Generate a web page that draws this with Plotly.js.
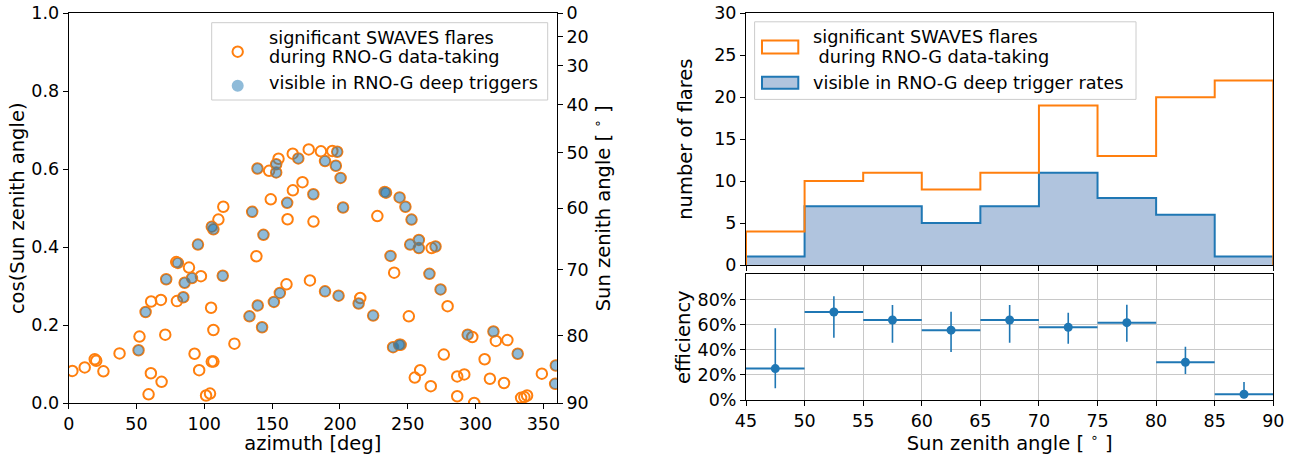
<!DOCTYPE html>
<html>
<head>
<meta charset="utf-8">
<script src="https://cdn.plot.ly/plotly-3.0.1.min.js"></script>
<style>
html,body{margin:0;padding:0;background:#fff;}
#plot{width:1301px;height:455px;}
</style>
</head>
<body>
<div id="plot"></div>
<script>
// ---------------- data ----------------
const flareAzimuth = [
  2.7, 11.8, 19.2, 20.3, 25.6, 37.5, 51.5, 52.2, 58.9, 60.6,
  68.5, 56.7, 60.8, 68.0, 71.2, 71.9, 79.8, 84.5, 79.3, 80.5,
  88.7, 85.5, 90.9, 97.5, 95.3, 92.8, 96.2, 113.6, 105.5, 106.7,
  110.4, 114.0, 105.0, 106.7, 105.5, 106.7, 101.3, 104.2, 122.2, 135.3,
  143.6, 138.4, 133.3, 139.4, 142.6, 151.3, 155.7, 160.6, 177.9, 189.0,
  139.2, 147.8, 153.0, 153.0, 154.7, 165.2, 169.3, 177.0, 186.0, 189.0,
  194.4, 198.0, 197.0, 200.5, 202.3, 149.0, 161.1, 165.3, 172.4, 180.4,
  161.4, 180.5, 199.0, 215.0, 213.8, 224.5, 227.6, 233.0, 234.0, 244.0,
  248.3, 252.8, 237.3, 240.0, 251.8, 258.2, 258.2, 267.6, 270.5, 266.0,
  274.2, 279.4, 250.8, 239.2, 243.7, 244.8, 276.6, 255.2, 259.2, 267.0,
  286.5, 291.7, 286.5, 299.0, 294.2, 297.6, 313.2, 315.0, 323.5, 331.1,
  306.7, 310.6, 321.0, 333.6, 336.0, 338.0, 348.9, 359.2, 358.7
];
const flareCosZenith = [
  0.083, 0.092, 0.113, 0.109, 0.082, 0.128, 0.136, 0.171, 0.023, 0.077,
  0.055, 0.234, 0.261, 0.265, 0.176, 0.318, 0.262, 0.272, 0.362, 0.360,
  0.348, 0.309, 0.321, 0.326, 0.407, 0.127, 0.085, 0.327, 0.453, 0.446,
  0.471, 0.504, 0.245, 0.188, 0.107, 0.107, 0.020, 0.025, 0.153, 0.491,
  0.432, 0.377, 0.223, 0.251, 0.195, 0.260, 0.283, 0.305, 0.315, 0.287,
  0.602, 0.596, 0.613, 0.592, 0.627, 0.640, 0.628, 0.651, 0.646, 0.621,
  0.647, 0.645, 0.609, 0.578, 0.502, 0.523, 0.514, 0.546, 0.567, 0.536,
  0.472, 0.466, 0.276, 0.270, 0.256, 0.225, 0.480, 0.542, 0.540, 0.528,
  0.504, 0.471, 0.378, 0.335, 0.407, 0.419, 0.398, 0.398, 0.402, 0.332,
  0.292, 0.249, 0.223, 0.144, 0.150, 0.150, 0.125, 0.066, 0.085, 0.044,
  0.069, 0.074, 0.018, 0.001, 0.176, 0.170, 0.184, 0.160, 0.162, 0.127,
  0.113, 0.063, 0.052, 0.014, 0.016, 0.020, 0.076, 0.097, 0.050
];
// 1 = flare also visible in RNO-G deep triggers
const flareVisible = [
  0,0,0,0,0,0,1,0,0,0,
  0,1,0,0,0,1,0,1,0,1,
  0,1,1,0,1,0,0,1,1,1,
  0,0,0,0,0,0,0,0,0,1,
  1,0,1,1,1,1,1,0,0,1,
  1,0,1,1,0,0,1,0,0,1,
  0,1,1,1,1,0,1,0,0,1,
  0,0,1,0,1,1,0,1,1,1,
  1,1,1,0,1,1,1,0,1,1,
  1,0,0,1,1,1,0,0,0,0,
  0,0,0,0,1,0,1,0,0,1,
  0,0,0,0,0,0,0,1,1
];
const zenithBinEdges = [45, 50, 55, 60, 65, 70, 75, 80, 85, 90];
const flaresPerBin   = [4, 10, 11, 9, 11, 19, 13, 20, 22];
const visiblePerBin  = [1, 7, 7, 5, 7, 11, 8, 6, 1];
const efficiencyUpper = [0.570, 0.826, 0.755, 0.702, 0.755, 0.694, 0.758, 0.424, 0.143];
const efficiencyLower = [0.093, 0.495, 0.456, 0.381, 0.456, 0.448, 0.464, 0.207, 0.013];
const zenithTickLabels = [0, 20, 30, 40, 50, 60, 70, 80, 90];
const azimuthTicks = [0, 50, 100, 150, 200, 250, 300, 350];
const cosTicks = [0, 0.2, 0.4, 0.6, 0.8, 1.0];
const effTicks = [0, 0.2, 0.4, 0.6, 0.8];

const labelAll = 'significant SWAVES flares during RNO-G data-taking';
const labelVisScatter = 'visible in RNO-G deep triggers';
const labelVisHist = 'visible in RNO-G deep trigger rates';

// ---------------- styling ----------------
const ORANGE = '#ff7f0e', BLUE = '#1f77b4', STEEL = '#b0c4de';
const FONT = 'DejaVu Sans';
const TICKF = {family: FONT, size: 17.5, color: '#000'};
const TITLEF = {family: FONT, size: 19.5, color: '#000'};
const LEGF = {family: FONT, size: 17.7, color: '#000'};
const W = 1301, H = 455;
const px = v => v / W;
const py = v => 1 - v / H;

// ---------------- derived traces ----------------
const visAz = flareAzimuth.filter((_, i) => flareVisible[i]);
const visCos = flareCosZenith.filter((_, i) => flareVisible[i]);

function stepXY(counts) {
  const x = [zenithBinEdges[0]], y = [0];
  counts.forEach((c, i) => { x.push(zenithBinEdges[i]); y.push(c); });
  const last = zenithBinEdges[zenithBinEdges.length - 1];
  x.push(last); y.push(counts[counts.length - 1]);
  x.push(last); y.push(0);
  return {x, y};
}
const stepAll = stepXY(flaresPerBin);
const stepVis = stepXY(visiblePerBin);
const binCenters = flaresPerBin.map((_, i) => (zenithBinEdges[i] + zenithBinEdges[i + 1]) / 2);
const efficiency = visiblePerBin.map((v, i) => v / flaresPerBin[i]);

const traces = [
  {x: flareAzimuth, y: flareCosZenith, xaxis: 'x', yaxis: 'y', type: 'scatter', mode: 'markers',
   name: labelAll, hoverinfo: 'skip', showlegend: false,
   marker: {symbol: 'circle', size: 10.5, color: 'rgba(0,0,0,0)', line: {color: ORANGE, width: 2}}},
  {x: visAz, y: visCos, xaxis: 'x', yaxis: 'y', type: 'scatter', mode: 'markers',
   name: labelVisScatter, hoverinfo: 'skip', showlegend: false,
   marker: {symbol: 'circle', size: 10.5, color: 'rgba(31,119,180,0.5)', line: {width: 0}}},
  {x: [0], y: [0], xaxis: 'x', yaxis: 'y2', type: 'scatter', mode: 'markers',
   marker: {opacity: 0}, hoverinfo: 'skip', showlegend: false},
  {x: stepVis.x, y: stepVis.y, xaxis: 'x2', yaxis: 'y3', type: 'scatter', mode: 'lines',
   line: {shape: 'hv', color: BLUE, width: 2}, fill: 'tozeroy', fillcolor: STEEL,
   name: labelVisHist, hoverinfo: 'skip', showlegend: false},
  {x: stepAll.x, y: stepAll.y, xaxis: 'x2', yaxis: 'y3', type: 'scatter', mode: 'lines',
   line: {shape: 'hv', color: ORANGE, width: 2},
   name: labelAll, hoverinfo: 'skip', showlegend: false},
  {x: binCenters, y: efficiency, xaxis: 'x3', yaxis: 'y4', type: 'scatter', mode: 'markers',
   marker: {color: BLUE, size: 9},
   error_x: {type: 'constant', value: 2.5, width: 0, thickness: 2, color: BLUE},
   error_y: {type: 'data', symmetric: false,
             array: efficiencyUpper.map((u, i) => u - efficiency[i]),
             arrayminus: efficiencyLower.map((l, i) => efficiency[i] - l),
             width: 0, thickness: 1.6, color: BLUE},
   hoverinfo: 'skip', showlegend: false}
];

const axisBase = {showline: true, linecolor: '#000', linewidth: 1, ticks: 'outside', ticklen: 5,
  tickwidth: 1, tickcolor: '#000', tickfont: TICKF, zeroline: false, showgrid: false, automargin: false};

const layout = {
  width: W, height: H,
  margin: {l: 0, r: 0, t: 0, b: 0, pad: 0},
  paper_bgcolor: '#fff', plot_bgcolor: 'rgba(0,0,0,0)',
  font: {family: FONT, color: '#000'},
  showlegend: false,
  xaxis: Object.assign({}, axisBase, {domain: [px(68.7), px(556.9)], range: [0, 360], anchor: 'y',
    tickvals: azimuthTicks, mirror: true,
    title: {text: 'azimuth [deg]', font: TITLEF, standoff: 0}}),
  yaxis: Object.assign({}, axisBase, {domain: [py(403.3), py(13.3)], range: [0, 1], anchor: 'x',
    tickvals: cosTicks, tickformat: '.1f',
    title: {text: 'cos(Sun zenith angle)', font: TITLEF, standoff: 1}}),
  yaxis2: Object.assign({}, axisBase, {overlaying: 'y', side: 'right', anchor: 'x', range: [0, 1],
    tickvals: zenithTickLabels.map(d => Math.cos(d * Math.PI / 180)),
    ticktext: zenithTickLabels.map(String),
    title: {text: 'Sun zenith angle [ <sup>∘</sup> ]', font: TITLEF, standoff: 6}}),
  xaxis2: Object.assign({}, axisBase, {domain: [px(746), px(1273.3)], range: [45, 90], anchor: 'y3',
    tickvals: zenithBinEdges, showticklabels: false, mirror: true}),
  yaxis3: Object.assign({}, axisBase, {domain: [py(265), py(13.3)], range: [0, 30], anchor: 'x2',
    dtick: 5, tick0: 0, mirror: true,
    title: {text: 'number of flares', font: TITLEF, standoff: 16}}),
  xaxis3: Object.assign({}, axisBase, {domain: [px(746), px(1273.3)], range: [45, 90], anchor: 'y4',
    tickvals: zenithBinEdges, mirror: true, showgrid: true, gridcolor: '#c8c8c8', gridwidth: 1,
    title: {text: 'Sun zenith angle [ <sup>∘</sup> ]', font: TITLEF, standoff: 0}}),
  yaxis4: Object.assign({}, axisBase, {domain: [py(400), py(274.3)], range: [0, 1], anchor: 'x3',
    tickvals: effTicks, tickformat: '.0%', mirror: true, showgrid: true, gridcolor: '#c8c8c8', gridwidth: 1,
    title: {text: 'efficiency', font: TITLEF, standoff: 1}}),
  shapes: [
    // scatter legend
    {type: 'rect', xref: 'paper', yref: 'paper', x0: px(211.7), x1: px(547.7), y0: py(100), y1: py(22.7),
     line: {color: '#cccccc', width: 1}, fillcolor: 'rgba(255,255,255,0.8)', layer: 'above'},
    {type: 'circle', xref: 'paper', yref: 'paper', x0: px(232.5), x1: px(242.9), y0: py(56.9), y1: py(46.5),
     line: {color: ORANGE, width: 2}, fillcolor: 'rgba(0,0,0,0)', layer: 'above'},
    {type: 'circle', xref: 'paper', yref: 'paper', x0: px(231.7), x1: px(243.7), y0: py(91.7), y1: py(79.7),
     line: {width: 0}, fillcolor: 'rgba(31,119,180,0.5)', layer: 'above'},
    // histogram legend
    {type: 'rect', xref: 'paper', yref: 'paper', x0: px(754.6), x1: px(1136), y0: py(99.4), y1: py(21.8),
     line: {color: '#cccccc', width: 1}, fillcolor: 'rgba(255,255,255,0.8)', layer: 'above'},
    {type: 'rect', xref: 'paper', yref: 'paper', x0: px(762), x1: px(798.3), y0: py(53.6), y1: py(40.6),
     line: {color: ORANGE, width: 2}, fillcolor: '#ffffff', layer: 'above'},
    {type: 'rect', xref: 'paper', yref: 'paper', x0: px(762), x1: px(798.3), y0: py(88.7), y1: py(76.7),
     line: {color: BLUE, width: 2}, fillcolor: STEEL, layer: 'above'}
  ],
  annotations: [
    {xref: 'paper', yref: 'paper', x: px(267), y: py(37.7), xanchor: 'left', yanchor: 'middle', showarrow: false,
     text: 'significant SWAVES flares', font: LEGF},
    {xref: 'paper', yref: 'paper', x: px(267), y: py(57.3), xanchor: 'left', yanchor: 'middle', showarrow: false,
     text: 'during RNO-G data-taking', font: LEGF},
    {xref: 'paper', yref: 'paper', x: px(267), y: py(83.3), xanchor: 'left', yanchor: 'middle', showarrow: false,
     text: labelVisScatter, font: LEGF},
    {xref: 'paper', yref: 'paper', x: px(811), y: py(36.6), xanchor: 'left', yanchor: 'middle', showarrow: false,
     text: 'significant SWAVES flares', font: LEGF},
    {xref: 'paper', yref: 'paper', x: px(811), y: py(56.6), xanchor: 'left', yanchor: 'middle', showarrow: false,
     text: '\u00a0during RNO-G data-taking', font: LEGF},
    {xref: 'paper', yref: 'paper', x: px(811), y: py(82.7), xanchor: 'left', yanchor: 'middle', showarrow: false,
     text: labelVisHist, font: LEGF}
  ]
};

Plotly.newPlot('plot', traces, layout, {staticPlot: true, displayModeBar: false});
</script>
</body>
</html>
